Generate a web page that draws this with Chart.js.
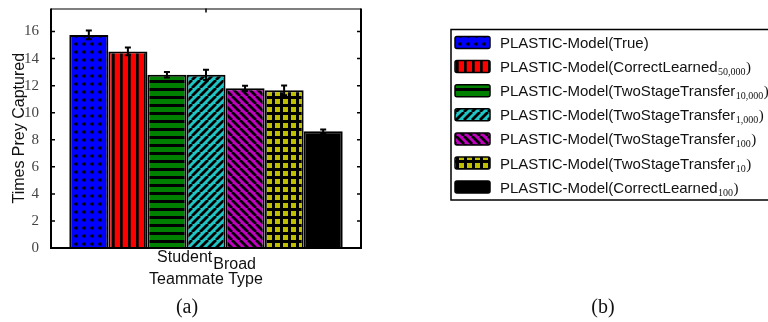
<!DOCTYPE html>
<html>
<head>
<meta charset="utf-8">
<script src="https://cdn.jsdelivr.net/npm/chart.js@4.4.1/dist/chart.umd.min.js"></script>
<style>
  body { margin: 0; background: #fff; }
  #wrap { width: 768px; height: 322px; }
</style>
</head>
<body>
<div id="wrap"><canvas id="chart"></canvas></div>
<script>
"use strict";

// data
const categories = [["Student", "Broad"]];
const seriesLabels = [
    "PLASTIC-Model(True)",
    "PLASTIC-Model(CorrectLearned",
    "PLASTIC-Model(TwoStageTransfer",
    "PLASTIC-Model(TwoStageTransfer",
    "PLASTIC-Model(TwoStageTransfer",
    "PLASTIC-Model(TwoStageTransfer",
    "PLASTIC-Model(CorrectLearned"
];
const seriesSubs = ["", "50,000", "10,000", "1,000", "100", "10", "100"];
const seriesValues = [15.75, 14.53, 12.8, 12.8, 11.8, 11.65, 8.62];
const seriesErrors = [0.32, 0.28, 0.2, 0.38, 0.2, 0.36, 0.14];
const yTicks = [0, 2, 4, 6, 8, 10, 12, 14, 16];
const yMax = 17.7;
const xTitle = "Teammate Type";
const yTitle = "Times Prey Captured";

const fills = [
    ["dots", "#0000ff"],
    ["vlines", "#ff0000"],
    ["hlines", "#008000"],
    ["fwd", "#1fc4c4"],
    ["back", "#bf00bf"],
    ["grid", "#bfbf00"],
    ["solid", "#000000"]
];

const SANS = '"Liberation Sans", Arial, sans-serif';
const SERIF = '"Liberation Serif", "Times New Roman", serif';

/**
 * Makes a hatch pattern like the matlab hatchfill ones.
 */
function makePattern(kind, color) {
    const p = 8;
    const c = document.createElement("canvas");
    c.width = p;
    c.height = p;
    const g = c.getContext("2d");
    g.fillStyle = color;
    g.fillRect(0, 0, p, p);
    g.fillStyle = "#000";
    g.strokeStyle = "#000";
    g.lineWidth = 2.8;
    if (kind === "dots") {
        g.beginPath();
        g.arc(4, 4, 1.8, 0, Math.PI * 2);
        g.fill();
    } else if (kind === "vlines") {
        g.fillRect(0, 0, 2.7, p);
    } else if (kind === "hlines") {
        g.fillRect(0, 0, p, 3);
    } else if (kind === "grid") {
        g.fillRect(0, 0, 3, p);
        g.fillRect(0, 0, p, 3);
    } else if (kind === "fwd") {
        g.beginPath();
        for (let k = -1; k <= 1; k++) {
            g.moveTo(k * p, p);
            g.lineTo(k * p + p, 0);
        }
        g.stroke();
    } else if (kind === "back") {
        g.beginPath();
        for (let k = -1; k <= 1; k++) {
            g.moveTo(k * p, 0);
            g.lineTo(k * p + p, p);
        }
        g.stroke();
    } else {
        return color;
    }
    return g.createPattern(c, "repeat");
}

const ctx0 = document.getElementById("chart").getContext("2d");
const patterns = fills.map(f => makePattern(f[0], f[1]));

const extras = {
    id: "extras",
    afterDatasetsDraw(chart) {
        const ctx = chart.ctx;
        const area = chart.chartArea;
        const x = chart.scales.x;
        const y = chart.scales.y;
        ctx.save();

        // error bars
        ctx.strokeStyle = "#000";
        ctx.lineWidth = 2;
        chart.data.datasets.forEach((ds, i) => {
            const bar = chart.getDatasetMeta(i).data[0];
            const top = y.getPixelForValue(seriesValues[i] + seriesErrors[i]);
            const bot = y.getPixelForValue(seriesValues[i] - seriesErrors[i]);
            ctx.beginPath();
            ctx.moveTo(bar.x, top);
            ctx.lineTo(bar.x, bot);
            ctx.moveTo(bar.x - 3, top);
            ctx.lineTo(bar.x + 3, top);
            ctx.moveTo(bar.x - 3, bot);
            ctx.lineTo(bar.x + 3, bot);
            ctx.stroke();
        });

        // axes box
        ctx.lineWidth = 2;
        ctx.beginPath();
        ctx.moveTo(area.left, area.top);
        ctx.lineTo(area.left, area.bottom);
        ctx.lineTo(area.right, area.bottom);
        ctx.lineTo(area.right, area.top);
        ctx.stroke();
        ctx.lineWidth = 1.2;
        ctx.beginPath();
        ctx.moveTo(area.left, area.top + 0.5);
        ctx.lineTo(area.right, area.top + 0.5);
        ctx.stroke();

        // inward ticks
        ctx.lineWidth = 1.5;
        ctx.beginPath();
        yTicks.forEach(v => {
            const py = y.getPixelForValue(v);
            ctx.moveTo(area.left, py);
            ctx.lineTo(area.left + 4, py);
            ctx.moveTo(area.right, py);
            ctx.lineTo(area.right - 4, py);
        });
        const cx = x.getPixelForValue(0);
        ctx.moveTo(cx, area.top);
        ctx.lineTo(cx, area.top + 4);
        ctx.stroke();

        // x tick label with subscript
        ctx.fillStyle = "#111";
        ctx.font = "16px " + SANS;
        ctx.textBaseline = "alphabetic";
        ctx.textAlign = "left";
        const [main, sub] = categories[0];
        const wm = ctx.measureText(main).width;
        const ws = ctx.measureText(sub).width;
        const sx = cx - (wm + ws) / 2;
        ctx.fillText(main, sx, area.bottom + 14);
        ctx.fillText(sub, sx + wm + 1, area.bottom + 21);

        ctx.textAlign = "center";
        ctx.fillText(xTitle, cx, area.bottom + 36);

        ctx.save();
        ctx.translate(20, (area.top + area.bottom) / 2);
        ctx.rotate(-Math.PI / 2);
        ctx.textBaseline = "middle";
        ctx.fillText(yTitle, 0, 0);
        ctx.restore();

        // panel letters
        ctx.font = "20px " + SERIF;
        ctx.textBaseline = "middle";
        ctx.fillText("(a)", 187, 308);
        ctx.fillText("(b)", 603, 308);

        // legend
        ctx.lineWidth = 1.5;
        ctx.strokeStyle = "#000";
        ctx.strokeRect(451, 29.5, 400, 170.5);
        seriesLabels.forEach((label, i) => {
            const cy = 42.5 + i * 24.1;
            ctx.beginPath();
            ctx.roundRect(455, cy - 6, 35, 12, 2);
            ctx.fillStyle = patterns[i];
            ctx.fill();
            ctx.lineWidth = 1.5;
            ctx.stroke();

            ctx.fillStyle = "#111";
            ctx.textAlign = "left";
            ctx.textBaseline = "alphabetic";
            ctx.font = "15px " + SANS;
            let tx = 500;
            ctx.fillText(label, tx, cy + 5.5);
            tx += ctx.measureText(label).width;
            if (seriesSubs[i]) {
                ctx.font = "10px " + SERIF;
                ctx.fillText(seriesSubs[i], tx + 0.5, cy + 8.5);
                tx += ctx.measureText(seriesSubs[i]).width + 1;
                ctx.font = "15px " + SERIF;
                ctx.fillText(")", tx, cy + 5.5);
            }
        });

        ctx.restore();
    }
};

new Chart(ctx0, {
    type: "bar",
    data: {
        labels: categories.map(c => c.join("")),
        datasets: seriesLabels.map((label, i) => ({
            label: label + seriesSubs[i],
            data: [seriesValues[i]],
            backgroundColor: patterns[i],
            borderColor: "#000",
            borderWidth: 2,
            borderSkipped: "bottom",
            categoryPercentage: 0.882,
            barPercentage: 1
        }))
    },
    options: {
        responsive: true,
        maintainAspectRatio: false,
        animation: false,
        layout: { padding: { left: 0, top: 5, right: 407, bottom: 74 } },
        plugins: {
            legend: { display: false },
            tooltip: { enabled: false }
        },
        scales: {
            x: { display: false },
            y: {
                min: 0,
                max: yMax,
                afterBuildTicks: scale => { scale.ticks = yTicks.map(v => ({ value: v })); },
                afterFit: scale => { scale.width = 51; },
                grid: { display: false },
                border: { display: false },
                ticks: {
                    padding: 4,
                    color: "#444",
                    font: { family: SERIF, size: 15, lineHeight: 0.6 }
                }
            }
        }
    },
    plugins: [extras]
});
</script>
</body>
</html>
